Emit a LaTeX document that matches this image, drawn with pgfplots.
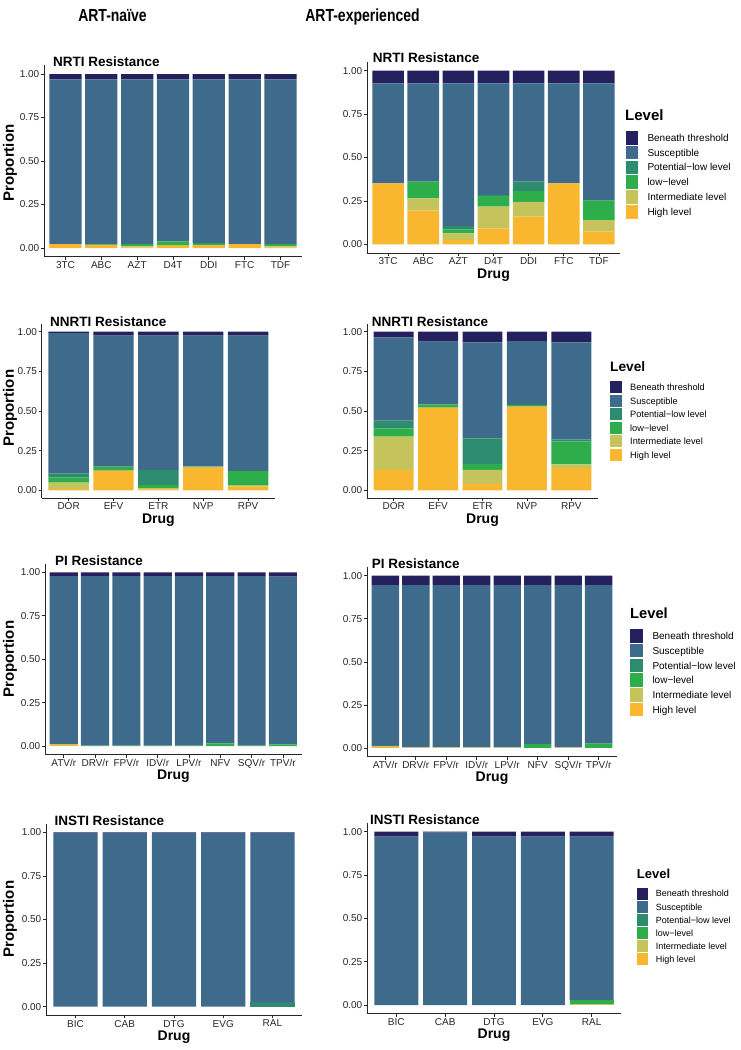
\documentclass[border=0pt]{standalone}
\usepackage{fontspec}
\setmainfont{Liberation Sans}
\usepackage{pgfplots}
\pgfplotsset{compat=1.18}
\usepackage{pgfplotstable}
\usepackage{graphicx}

\definecolor{cB}{HTML}{25215E}
\definecolor{cS}{HTML}{3E6A8B}
\definecolor{cP}{HTML}{2E8C6E}
\definecolor{cL}{HTML}{2EAD4B}
\definecolor{cI}{HTML}{C5C35B}
\definecolor{cH}{HTML}{F8B72F}
\definecolor{axgray}{HTML}{262626}

% columns: H=High, I=Intermediate, L=low-level, P=Potential-low, S=Susceptible, B=Beneath threshold
\pgfplotstableread{
i H I L P S B
0 0.023 0 0 0 0.946 0.031
1 0.017 0 0.004 0 0.948 0.031
2 0.004 0.006 0.013 0 0.946 0.031
3 0.012 0.005 0.021 0 0.931 0.031
4 0.012 0.006 0.006 0.006 0.939 0.031
5 0.023 0 0 0 0.946 0.031
6 0.004 0.006 0.012 0 0.947 0.031
}\nrtiN
\pgfplotstableread{
i H I L P S B
0 0.351 0 0 0 0.576 0.073
1 0.194 0.071 0.096 0 0.566 0.073
2 0.025 0.038 0.023 0.019 0.822 0.073
3 0.092 0.125 0.062 0.005 0.643 0.073
4 0.159 0.085 0.063 0.054 0.566 0.073
5 0.351 0 0 0 0.576 0.073
6 0.073 0.067 0.111 0.003 0.673 0.073
}\nrtiE
\pgfplotstableread{
i H I L P S B
0 0.008 0.040 0.032 0.027 0.885 0.008
1 0.124 0 0.025 0 0.826 0.025
2 0.005 0.008 0.021 0.094 0.847 0.025
3 0.139 0.010 0 0 0.826 0.025
4 0.025 0.004 0.093 0 0.853 0.025
}\nnrtiN
\pgfplotstableread{
i H I L P S B
0 0.128 0.210 0.053 0.048 0.525 0.036
1 0.521 0 0.021 0 0.395 0.063
2 0.040 0.088 0.038 0.162 0.605 0.067
3 0.527 0 0.011 0 0.403 0.059
4 0.139 0.025 0.143 0.014 0.612 0.067
}\nnrtiE
\pgfplotstableread{
i H I L P S B
0 0.005 0.005 0 0 0.969 0.021
1 0 0 0.002 0 0.977 0.021
2 0 0 0.003 0 0.976 0.021
3 0 0 0.003 0 0.976 0.021
4 0 0 0.002 0 0.977 0.021
5 0 0 0.015 0 0.964 0.021
6 0 0 0.003 0 0.976 0.021
7 0 0 0.010 0 0.965 0.025
}\piN
\pgfplotstableread{
i H I L P S B
0 0.004 0.008 0 0 0.934 0.054
1 0 0.004 0 0 0.942 0.054
2 0 0.004 0 0 0.942 0.054
3 0 0.004 0 0 0.942 0.054
4 0 0.004 0 0 0.942 0.054
5 0 0 0.022 0 0.924 0.054
6 0 0.004 0 0 0.942 0.054
7 0 0 0.025 0 0.921 0.054
}\piE
\pgfplotstableread{
i H I L P S B
0 0 0 0 0 0.995 0.005
1 0 0 0 0 0.995 0.005
2 0 0 0 0 0.995 0.005
3 0 0 0 0 0.995 0.005
4 0 0 0 0.028 0.967 0.005
}\instiN
\pgfplotstableread{
i H I L P S B
0 0 0 0 0 0.971 0.029
1 0 0 0 0 0.995 0.005
2 0 0 0 0 0.971 0.029
3 0 0 0 0 0.971 0.029
4 0 0.006 0.023 0 0.942 0.029
}\instiE

\pgfplotsset{
  panel/.style={
    scale only axis, anchor=south west,
    ybar stacked, bar width=0.9,
    enlargelimits=false,
    ymin=-0.05, ymax=1.05,
    ytick={0,0.25,0.5,0.75,1},
    yticklabels={0.00,0.25,0.50,0.75,1.00},
    axis x line*=bottom, axis y line*=left,
    axis line style={-, line width=0.7pt, color=axgray},
    tick align=outside, major tick length=3pt,
    major tick style={line width=0.7pt, color=axgray},
    minor tick num=0,
    ticklabel style={font=\fontsize{10}{12}\selectfont, color=axgray},
    yticklabel style={inner xsep=1.5pt},
    xticklabel style={inner ysep=1.5pt},
    xlabel style={font=\bfseries\fontsize{14}{16}\selectfont, at={(axis description cs:0.5,0)}, anchor=base, yshift=-25pt},
  }
}
\newcommand\stackbars[1]{%
  \addplot[fill=cH,draw=none] table[x=i,y=H]{#1};
  \addplot[fill=cI,draw=none] table[x=i,y=I]{#1};
  \addplot[fill=cL,draw=none] table[x=i,y=L]{#1};
  \addplot[fill=cP,draw=none] table[x=i,y=P]{#1};
  \addplot[fill=cS,draw=none] table[x=i,y=S]{#1};
  \addplot[fill=cB,draw=none] table[x=i,y=B]{#1};
}
\newcommand\legendblock[9]{%
  \node[anchor=base west, inner sep=0pt, font=\bfseries\fontsize{#3}{#3}\selectfont] at (#1pt,-#2pt) {Level};
  \foreach \c/\t [count=\i from 0] in {cB/Beneath threshold,cS/Susceptible,cP/Potential−low level,cL/low−level,cI/Intermediate level,cH/High level}{%
    \fill[\c] (#4pt,{-(#5+\i*#6-#6/2+0.6)*1pt}) rectangle ({(#4+#7)*1pt},{-(#5+\i*#6+#6/2-0.6)*1pt});
    \node[anchor=base west, inner sep=0pt, font=\fontsize{#9}{#9}\selectfont] at (#8pt,{-(#5+\i*#6+0.36*#9)*1pt}) {\t};
  }%
}
\newcommand\ptitle[3]{\node[anchor=base west, inner sep=0pt, font=\bfseries\fontsize{13.5}{15}\selectfont] at (#1pt,-#2pt) {#3};}
\newcommand\propl[1]{\node[rotate=90, anchor=center, inner sep=0pt, font=\bfseries\fontsize{15}{17}\selectfont] at (10pt,-#1pt) {Proportion};}

\begin{document}
\begin{tikzpicture}
\useasboundingbox (0,0) rectangle (740pt,-1050pt);

% column headers
\node[anchor=base, inner sep=0pt, font=\bfseries\fontsize{17.5}{20}\selectfont] at (112.5pt,-21.7pt) {\scalebox{0.8}[1]{ART-naïve}};
\node[anchor=base, inner sep=0pt, font=\bfseries\fontsize{17.5}{20}\selectfont] at (362.5pt,-21.7pt) {\scalebox{0.8}[1]{ART-experienced}};

% ---------- Row 1: NRTI ----------
\begin{axis}[panel, at={(44pt,-256.7pt)}, width=258pt, height=191.4pt,
  xmin=-0.6, xmax=6.6, xtick={0,...,6}, xticklabels={3TC,ABC,AZT,D4T,DDI,FTC,TDF}]
\stackbars{\nrtiN}
\end{axis}
\begin{axis}[panel, at={(367pt,-253pt)}, width=253pt, height=191pt,
  xmin=-0.6, xmax=6.6, xtick={0,...,6}, xticklabels={3TC,ABC,AZT,D4T,DDI,FTC,TDF}, xlabel={Drug}]
\stackbars{\nrtiE}
\end{axis}
\ptitle{53}{66.7}{NRTI Resistance}
\ptitle{372.7}{62.7}{NRTI Resistance}
\propl{163}
\legendblock{625}{120}{15}{626}{137.7}{14.8}{12.3}{647.3}{10}

% ---------- Row 2: NNRTI ----------
\begin{axis}[panel, at={(41.7pt,-498.2pt)}, width=233.3pt, height=174.4pt,
  xmin=-0.6, xmax=4.6, xtick={0,...,4}, xticklabels={DOR,EFV,ETR,NVP,RPV}, xlabel={Drug}]
\stackbars{\nnrtiN}
\end{axis}
\begin{axis}[panel, at={(367pt,-498.2pt)}, width=231pt, height=174.4pt,
  xmin=-0.6, xmax=4.6, xtick={0,...,4}, xticklabels={DOR,EFV,ETR,NVP,RPV}, xlabel={Drug}]
\stackbars{\nnrtiE}
\end{axis}
\ptitle{50}{326}{NNRTI Resistance}
\ptitle{371.7}{326}{NNRTI Resistance}
\propl{408}
\legendblock{610}{371.7}{13.7}{610}{387.3}{13.5}{11.7}{630}{9.2}

% ---------- Row 3: PI ----------
\begin{axis}[panel, at={(45pt,-754.7pt)}, width=256.7pt, height=191pt,
  xmin=-0.6, xmax=7.6, xtick={0,...,7}, xticklabels={ATV/r,DRV/r,FPV/r,IDV/r,LPV/r,NFV,SQV/r,TPV/r}, xlabel={Drug}]
\stackbars{\piN}
\end{axis}
\begin{axis}[panel, at={(367pt,-756.6pt)}, width=250pt, height=189.5pt,
  xmin=-0.6, xmax=7.6, xtick={0,...,7}, xticklabels={ATV/r,DRV/r,FPV/r,IDV/r,LPV/r,NFV,SQV/r,TPV/r}, xlabel={Drug}]
\stackbars{\piE}
\end{axis}
\ptitle{55}{565}{PI Resistance}
\ptitle{371.7}{568.3}{PI Resistance}
\propl{659}
\legendblock{630}{618.3}{14.7}{630}{636}{14.7}{13.3}{652.3}{10}

% ---------- Row 4: INSTI ----------
\begin{axis}[panel, at={(46pt,-1015.4pt)}, width=256pt, height=191.8pt,
  xmin=-0.6, xmax=4.6, xtick={0,...,4}, xticklabels={BIC,CAB,DTG,EVG,RAL}, xlabel={Drug}]
\stackbars{\instiN}
\end{axis}
\begin{axis}[panel, at={(367pt,-1013.7pt)}, width=254pt, height=190.7pt,
  xmin=-0.6, xmax=4.6, xtick={0,...,4}, xticklabels={BIC,CAB,DTG,EVG,RAL}, xlabel={Drug}]
\stackbars{\instiE}
\end{axis}
\ptitle{54.3}{825}{INSTI Resistance}
\ptitle{370}{824.3}{INSTI Resistance}
\propl{919}
\legendblock{636.7}{878.3}{13}{636.7}{893.7}{13.1}{11}{655.7}{9}

\end{tikzpicture}
\end{document}
